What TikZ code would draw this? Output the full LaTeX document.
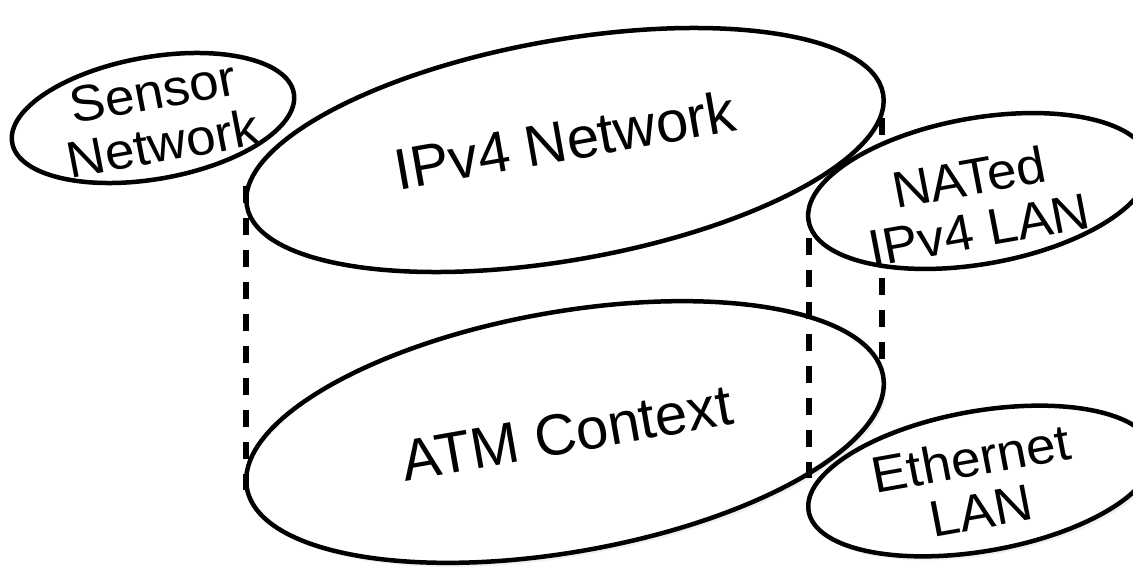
\documentclass[tikz,border=0pt]{standalone}
\usepackage{fontspec}
\setmainfont{Liberation Sans}
\usetikzlibrary{shapes.geometric,shadows}
\newcommand\netfont{\fontsize{58pt}{50pt}\selectfont}
\newcommand\smallnetfont{\fontsize{51pt}{53pt}\selectfont}
\tikzset{
  net/.style={draw, line width=4.5pt, fill=white, ellipse, inner sep=0pt, rotate=10},
  shadowed/.style={drop shadow={shadow xshift=3pt, shadow yshift=-4pt, opacity=0.12},
                   drop shadow={shadow xshift=1.5pt, shadow yshift=-2pt, opacity=0.25}},
  nettext/.style={font=\netfont, align=center, rotate=10, inner sep=0pt},
  smalltext/.style={font=\smallnetfont, align=center, rotate=10.5, inner sep=0pt, transform shape},
  stretch/.style={xscale=1.04},
  link/.style={line width=5.5pt, dash pattern=on 17pt off 15pt},
}
\begin{document}
\begin{tikzpicture}[x=1pt,y=-1pt]
\useasboundingbox (0,0) rectangle (1133,570);
% upper ellipses
\node[net, minimum width=646pt, minimum height=220pt] (ipv4) at (565,150) {};
\node[net, minimum width=286pt, minimum height=122pt] (sensor) at (153,118) {};
% lower big ellipse
\node[net, shadowed, minimum width=646pt, minimum height=240pt] (atm) at (565,432) {};
% dashed connectors
\coordinate (l1a) at (246,186); \coordinate (l1b) at (246,490);
\coordinate (l2a) at (809,238); \coordinate (l2b) at (809,478);
\coordinate (l3a) at (882,118); \coordinate (l3b) at (882,360);
\draw[link] (l1a) -- (l1b);
\draw[link] (l2a) -- (l2b);
\draw[link] (l3a) -- (l3b);
% right ellipses
\node[net, minimum width=346pt, minimum height=146pt] (nat) at (979,191) {};
\node[net, shadowed, minimum width=350pt, minimum height=140pt] (eth) at (981,481) {};
% labels
\node[nettext] (ipv4t) at (565,140) {IPv4 Network};
\node[nettext] (atmt) at (567,433) {ATM Context};
\begin{scope}[shift={(158,118)}, stretch]
  \node[smalltext] (sensort) {Sensor\\Network};
\end{scope}
\begin{scope}[shift={(974,203)}, stretch]
  \node[smalltext] (natt) {NATed\\IPv4 LAN};
\end{scope}
\begin{scope}[shift={(976,484)}, stretch]
  \node[smalltext] (etht) {Ethernet\\LAN};
\end{scope}
\end{tikzpicture}
\end{document}
